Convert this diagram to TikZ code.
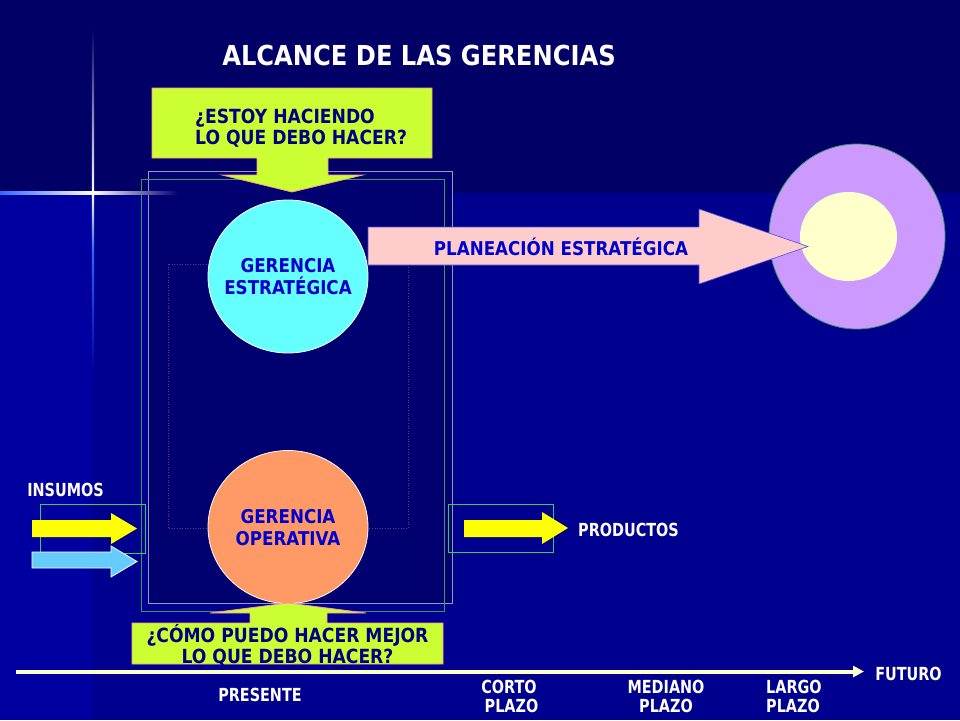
\documentclass[tikz,border=0pt]{standalone}
\usepackage{fontspec}
\setmainfont{DejaVu Sans}[FakeStretch=0.88]
\newfontfamily\lblfont{DejaVu Sans}[FakeStretch=0.8]
\usetikzlibrary{shapes.geometric,arrows.meta}
\definecolor{bgtop}{HTML}{000066}
\definecolor{bgmain}{HTML}{00008F}
\definecolor{bgleft}{HTML}{0000A0}
\definecolor{bgin}{HTML}{000070}
\definecolor{starblue}{HTML}{3366FF}
\definecolor{lime}{HTML}{CCFF33}
\definecolor{limeborder}{HTML}{FF9999}
\definecolor{navytext}{HTML}{000080}
\definecolor{bluetext}{HTML}{0000CC}
\definecolor{cyanfill}{HTML}{66FFFF}
\definecolor{orangefill}{HTML}{FF9966}
\definecolor{pinkfill}{HTML}{FFCCCC}
\definecolor{lilac}{HTML}{CC99FF}
\definecolor{cream}{HTML}{FFFFCC}
\definecolor{framegray}{HTML}{9999BB}
\definecolor{framegreen}{HTML}{339966}
\definecolor{smallgreen}{HTML}{33CC66}
\definecolor{dotpurple}{HTML}{663399}
\definecolor{yelarrow}{HTML}{FFFF00}
\definecolor{bluearrow}{HTML}{66CCFF}
\tikzset{
  titletext/.style={text=white, inner sep=0pt, font=\bfseries\fontsize{27.5}{30}\selectfont},
  boxtext/.style={text=navytext, inner sep=0pt, font=\bfseries\fontsize{19.5}{21}\selectfont},
  circtext/.style={text=bluetext, inner sep=0pt, align=center, font=\bfseries\fontsize{19}{22}\selectfont},
  lbltext/.style={text=white, inner sep=0pt, font=\lblfont\bfseries\fontsize{18}{19}\selectfont},
  circ/.style={ellipse, draw=white, line width=0.8pt, inner sep=0pt, minimum width=160pt, minimum height=153pt},
  limebox/.style={fill=lime, draw=limeborder, line width=0.8pt},
}
\begin{document}
\begin{tikzpicture}[x=1pt,y=-1pt]
\useasboundingbox (0,0) rectangle (960,720);
% background
\fill[bgmain] (0,0) rectangle (960,720);
\fill[bgtop] (0,0) rectangle (960,193);
\fill[bgleft] (0,193) rectangle (93,720);
% frames
\fill[bgin] (148,171) rectangle (452,603);
\draw[framegray, line width=0.8pt] (148,171) rectangle (452,603);
\draw[framegreen, line width=0.8pt] (141,179) rectangle (444,611);
\draw[dotpurple, dotted, line width=0.6pt] (168,264) rectangle (408,528);
% star
\shade[left color=starblue, right color=white] (0,191.8) rectangle (93,194.2);
\shade[left color=white, right color=bgin] (93,191.8) rectangle (178,194.2);
\shade[top color=bgtop, bottom color=white] (91.8,28) rectangle (94.2,193);
\shade[top color=white, bottom color=starblue] (91.8,193) rectangle (94.2,250);
\shade[top color=starblue, bottom color=bgleft] (91.8,250) rectangle (94.2,370);
% title
\node[titletext] (title) at (419,55) {ALCANCE DE LAS GERENCIAS};
% circles
\node[circ, fill=cyanfill] (ge) at (288,276.5) {};
\node[circ, fill=orangefill] (go) at (288,527) {};
\node[circtext] (getext) at (288,277) {GERENCIA\\ESTRATÉGICA};
\node[circtext] (gotext) at (288,527.5) {GERENCIA\\OPERATIVA};
% top question box with down arrow
\draw[limebox] (152,88) -- (432,88) -- (432,158) -- (328,158) -- (328,175) -- (363,175)
  -- (292,192) -- (222,175) -- (257,175) -- (257,158) -- (152,158) -- cycle;
\node[boxtext, anchor=west, align=left] (q1) at (195,128.5) {¿ESTOY HACIENDO\\LO QUE DEBO HACER?};
% bottom question box with up arrow
\draw[limebox] (132,623) -- (250,623) -- (250,613) -- (210,613) -- (288,603) -- (366,613)
  -- (327,613) -- (327,623) -- (443,623) -- (443,664) -- (132,664) -- cycle;
\node[boxtext, align=center] (q2) at (287.5,645) {¿CÓMO PUEDO HACER MEJOR\\LO QUE DEBO HACER?};
% goal ellipse
\node[ellipse, fill=lilac, draw=framegreen, line width=0.8pt, inner sep=0pt, minimum width=176pt, minimum height=185pt] (goal) at (857,236.5) {};
\node[ellipse, fill=cream, inner sep=0pt, minimum width=97pt, minimum height=89pt] (core) at (848.5,236.5) {};
% planeacion arrow
\draw[fill=pinkfill, draw=bluetext!70!white, line width=0.6pt] (368,227) -- (699,227) -- (699,209) -- (808,246.5)
  -- (699,284) -- (699,265) -- (368,265) -- cycle;
\node[circtext] (plan) at (561,247) {PLANEACIÓN ESTRATÉGICA};
% inputs
\draw[smallgreen, line width=0.8pt] (40,504) rectangle (145,553);
\fill[yelarrow] (32,520) -- (111,520) -- (111,513) -- (137,528.5) -- (111,544) -- (111,537) -- (32,537) -- cycle;
\draw[fill=bluearrow, draw=white, line width=0.8pt] (32,552) -- (111,552) -- (111,546) -- (137,561.5) -- (111,577) -- (111,568) -- (32,568) -- cycle;
\node[lbltext] (insumos) at (65.5,490) {INSUMOS};
% outputs
\draw[smallgreen, line width=0.8pt] (448,504) rectangle (553,552);
\fill[yelarrow] (464,520) -- (542,520) -- (542,512) -- (568,528) -- (542,544) -- (542,537) -- (464,537) -- cycle;
\node[lbltext] (productos) at (628.5,530) {PRODUCTOS};
% timeline
\coordinate (tl) at (16,671.5);
\coordinate (tr) at (864,671.5);
\draw[cream, line width=4pt, -{Triangle[length=11pt,width=11pt]}] (tl) -- (tr);
\node[lbltext] (futuro) at (908.5,674) {FUTURO};
\node[lbltext] (presente) at (260,695) {PRESENTE};
\node[lbltext, align=center] (corto) at (509,696.5) {CORTO\\\ PLAZO};
\node[lbltext, align=center] (mediano) at (666,696.5) {MEDIANO\\PLAZO};
\node[lbltext, align=left, anchor=west] (largo) at (766,696.5) {LARGO\\PLAZO};
\end{tikzpicture}
\end{document}
